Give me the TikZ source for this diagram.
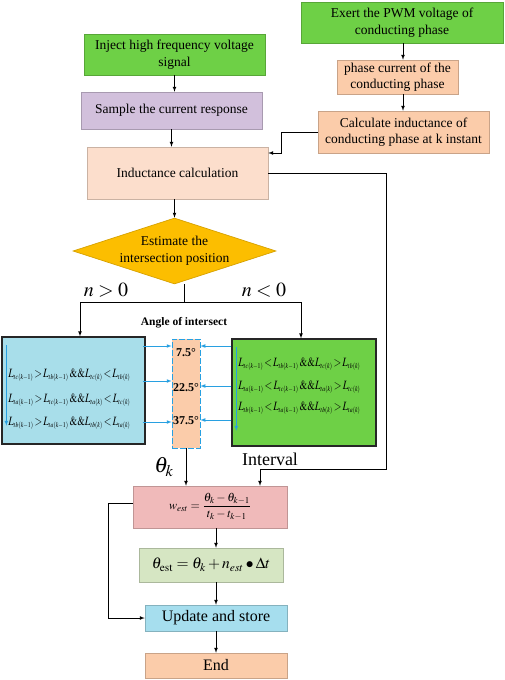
\documentclass[tikz,border=0pt]{standalone}
\usepackage{amsmath}
\usepackage{mathptmx}
\usepackage{fontspec}
\setmainfont{Liberation Serif}
\usetikzlibrary{shapes.geometric}

\definecolor{leaf}{RGB}{110,208,70}
\definecolor{peach}{RGB}{251,204,170}
\definecolor{paleorange}{RGB}{252,222,204}
\definecolor{lilac}{RGB}{210,192,220}
\definecolor{gold}{RGB}{252,190,0}
\definecolor{sky}{RGB}{168,222,234}
\definecolor{rose}{RGB}{240,186,186}
\definecolor{sage}{RGB}{214,230,195}
\definecolor{aqua}{RGB}{166,222,238}
\definecolor{arrowblue}{RGB}{40,160,225}

% one inductance term, small subscript
\newcommand\Lt[2]{L_{\scriptscriptstyle #1(#2)}}
\newcommand\condline[1]{\resizebox{122pt}{8.5pt}{$#1$}}

\tikzset{
  box/.style={draw=#1!80!black, fill=#1, line width=0.5pt, inner sep=1pt,
    align=center, font=\fontsize{13.5}{16.5}\selectfont},
  condbox/.style={draw=black!85, fill=#1, line width=1.3pt},
  decision/.style={diamond, draw=gold!85!black, fill=gold, inner sep=0pt},
  cond/.style={anchor=west, inner sep=0pt, font=\fontsize{12}{14}\selectfont},
  deg/.style={inner sep=0pt, font=\bfseries\fontsize{12}{14}\selectfont},
  barrow/.style={->, draw=arrowblue, line width=0.7pt},
}

\begin{document}
\begin{tikzpicture}[x=1pt, y=-1pt, >=latex, line width=0.7pt]

  \useasboundingbox (0,0) rectangle (505,680);

  % left column
  \node[box=leaf, minimum width=181, minimum height=41] (inject) at (174.5,54.5)
    {Inject high frequency voltage\\signal};
  \node[box=lilac, minimum width=181, minimum height=37] (sample) at (171.5,110.5)
    {Sample the current response};
  \node[box=paleorange, minimum width=181, minimum height=52] (indcalc) at (177.5,173)
    {Inductance calculation};

  % right column
  \node[box=leaf, minimum width=202, minimum height=41] (exert) at (402,22.5)
    {Exert the PWM voltage of\\conducting phase};
  \node[box=peach, minimum width=121, minimum height=34] (phasecur) at (397.5,77)
    {phase current of the\\conducting phase};
  \node[box=peach, minimum width=171, minimum height=42] (calcind) at (403.5,132)
    {Calculate inductance of\\conducting phase at k instant};

  \draw[->] (inject.south) -- (inject.south |- sample.north);
  \draw[->] (sample.south) -- (sample.south |- indcalc.north);
  \draw[->] (exert.south -| 403,0) -- (403,0 |- phasecur.north);
  \draw[->] (phasecur.south -| 403,0) -- (403,0 |- calcind.north);

  \coordinate (bend) at (281,153);
  \draw[->] (calcind.west) -| (bend) -- (indcalc.east |- bend);

  % decision
  \node[decision, minimum width=203, minimum height=66] (est) at (174.5,251) {};
  \node[align=center, font=\fontsize{13.5}{16.5}\selectfont] (esttext) at (est)
    {Estimate the\\intersection position};
  \draw[->] (indcalc.south -| est.north) -- (est.north);

  \node[font=\fontsize{20}{20}\selectfont] (npos) at (106,290) {$n>0$};
  \node[font=\fontsize{20}{20}\selectfont] (nneg) at (264,290) {$n<0$};

  \coordinate (split) at (184,302);
  \draw (split |- est.south) -- (split);

  % conditions
  \node[condbox=sky, minimum width=143, minimum height=107] (lbox) at (73.5,390.5) {};
  \node[condbox=leaf, minimum width=144, minimum height=107] (rbox) at (304,392.5) {};
  \node[draw=arrowblue, dash pattern=on 6pt off 2pt, fill=peach, line width=0.7pt,
    minimum width=28, minimum height=109] (mid) at (186,393.5) {};

  \draw[->] (split) -| ([xshift=6.5pt]lbox.north);
  \draw[->] (split) -| ([xshift=-3pt]rbox.north);

  \node[font=\bfseries\fontsize{11.5}{13}\selectfont] (angle) at (184,323) {Angle of intersect};

  \node[deg] (d1) at (186,353) {7.5°};
  \node[deg] (d2) at (186,388) {22.5°};
  \node[deg] (d3) at (186,421) {37.5°};

  \node[cond] (l1) at (8,375) {\condline{\Lt{tc}{k-1}\!>\!\Lt{tb}{k-1}\,\&\&\Lt{tc}{k}\!<\!\Lt{tb}{k}}};
  \node[cond] (l2) at (8,400) {\condline{\Lt{ta}{k-1}\!>\!\Lt{tc}{k-1}\,\&\&\Lt{ta}{k}\!<\!\Lt{tc}{k}}};
  \node[cond] (l3) at (8,423) {\condline{\Lt{tb}{k-1}\!>\!\Lt{ta}{k-1}\,\&\&\Lt{tb}{k}\!<\!\Lt{ta}{k}}};

  \node[cond] (r1) at (238,364) {\condline{\Lt{tc}{k-1}\!<\!\Lt{tb}{k-1}\,\&\&\Lt{tc}{k}\!>\!\Lt{tb}{k}}};
  \node[cond] (r2) at (238,387) {\condline{\Lt{ta}{k-1}\!<\!\Lt{tc}{k-1}\,\&\&\Lt{ta}{k}\!>\!\Lt{tc}{k}}};
  \node[cond] (r3) at (238,408) {\condline{\Lt{tb}{k-1}\!<\!\Lt{ta}{k-1}\,\&\&\Lt{tb}{k}\!>\!\Lt{ta}{k}}};

  \draw[barrow] ([xshift=5pt,yshift=-9pt]lbox.north west) -- ([xshift=5pt,yshift=19pt]lbox.south west);
  \draw[barrow] ([xshift=5pt,yshift=-9pt]rbox.north west) -- ([xshift=5pt,yshift=16pt]rbox.south west);

  \draw[barrow] ([xshift=-3pt]lbox.east |- 0,346) -- (mid.west |- 0,346);
  \draw[barrow] ([xshift=-3pt]lbox.east |- 0,381) -- (mid.west |- 0,381);
  \draw[barrow] ([xshift=-3pt]lbox.east |- 0,422) -- (mid.west |- 0,422);
  \draw[barrow] (rbox.west |- 0,346) -- (mid.east |- 0,346);
  \draw[barrow] (rbox.west |- 0,386) -- (mid.east |- 0,386);
  \draw[barrow] (rbox.west |- 0,420) -- (mid.east |- 0,420);

  % estimation
  \node[box=rose, minimum width=154, minimum height=42] (wbox) at (210,507)
    {\fontsize{12}{14}\selectfont$w_{est}=\dfrac{\theta_k-\theta_{k-1}}{t_k-t_{k-1}}$};
  \node[box=sage, minimum width=144, minimum height=34] (thest) at (211,565)
    {\fontsize{15.5}{18}\selectfont$\theta_{\mathrm{est}}=\theta_k+n_{est}\bullet\Delta t$};
  \node[box=aqua, minimum width=142, minimum height=26, font=\fontsize{16}{18}\selectfont]
    (upd) at (216,618) {Update and store};
  \node[box=peach, minimum width=142, minimum height=25, font=\fontsize{16}{18}\selectfont]
    (fin) at (216,665.5) {End};

  \node[font=\fontsize{22}{22}\selectfont] (thk) at (164,467) {$\theta_k$};
  \node[font=\fontsize{18}{18}\selectfont] (ivl) at (270,459) {Interval};

  \draw[->] (mid.south) -- (mid.south |- wbox.north);
  \coordinate (turn) at (386,469);
  \draw[->] (indcalc.east) -| (turn) -| (260,0 |- wbox.north);

  \draw[->] (wbox.south -| upd.north) -- (upd.north |- thest.north);
  \draw[->] (thest.south -| upd.north) -- (upd.north);
  \draw[->] (upd.south) -- (fin.north);

  \coordinate (loop) at (108,503);
  \draw[->] (wbox.west |- loop) -- (loop) |- (upd.west);

\end{tikzpicture}
\end{document}
